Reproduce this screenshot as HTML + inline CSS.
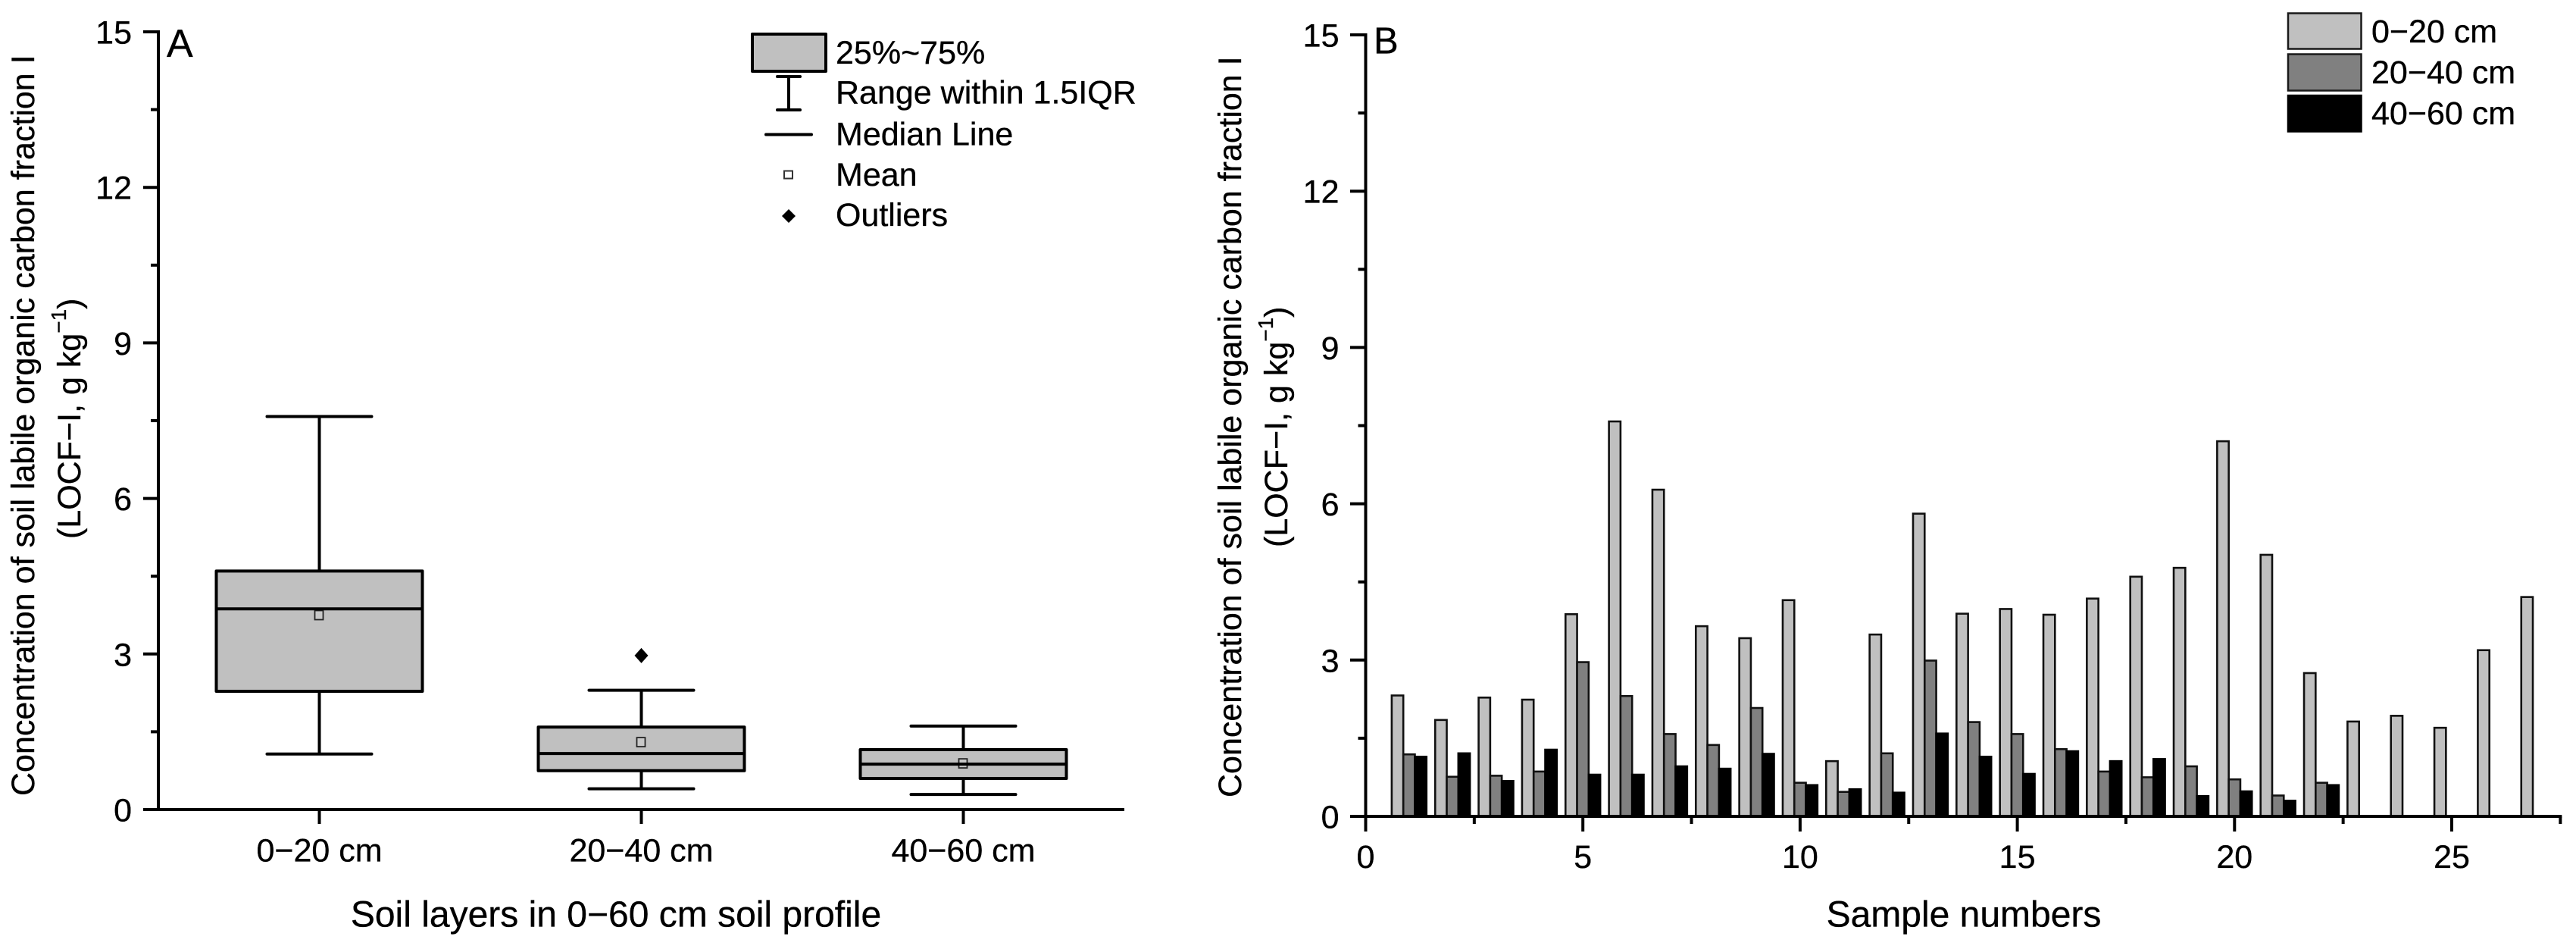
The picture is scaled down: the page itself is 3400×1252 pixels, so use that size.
<!DOCTYPE html>
<html lang="en">
<head>
<meta charset="utf-8">
<title>Soil labile organic carbon fraction I</title>
<style>
html,body{margin:0;padding:0;background:#fff;}
svg{display:block;}
text{font-family:"Liberation Sans",Arial,sans-serif;fill:#000;stroke:#000;stroke-width:0.35px;}
</style>
</head>
<body>
<svg id="figure" xmlns="http://www.w3.org/2000/svg" width="3400" height="1252" viewBox="0 0 3400 1252">
  <rect x="0" y="0" width="3400" height="1252" fill="#fff"/>

  <g id="panelA">
    <text x="220" y="75" font-size="52">A</text>
    <text transform="translate(45,1050) rotate(-90)" font-size="43">Concentration of soil labile organic carbon fraction I</text>
    <text transform="translate(106,711) rotate(-90)" font-size="43">(LOCF−I, g kg<tspan dy="-19" font-size="28">−1</tspan><tspan dy="19">)</tspan></text>
    <text x="813" y="1222.5" font-size="48" text-anchor="middle">Soil layers in 0−60 cm soil profile</text>
    <g id="axesA"></g>
    <g id="boxesA"></g>
    <g>
      <rect x="993" y="45" width="97" height="49" fill="#c0c0c0" stroke="#000" stroke-width="4" stroke-linejoin="round"/>
      <text x="1103" y="84" font-size="43">25%~75%</text>
      <g stroke="#000" stroke-width="4" stroke-linecap="round">
        <line x1="1041" y1="101" x2="1041" y2="145"/>
        <line x1="1026" y1="101" x2="1056" y2="101"/>
        <line x1="1026" y1="145" x2="1056" y2="145"/>
      </g>
      <text x="1103" y="136.5" font-size="43">Range within 1.5IQR</text>
      <line x1="1011" y1="177.5" x2="1071" y2="177.5" stroke="#000" stroke-width="4" stroke-linecap="round"/>
      <text x="1103" y="191.5" font-size="43">Median Line</text>
      <rect x="1035" y="225.5" width="11" height="10" fill="#fff" stroke="#333" stroke-width="2"/>
      <text x="1103" y="245" font-size="43">Mean</text>
      <path d="M1041 276 L1050 285 L1041 294 L1032 285 Z" fill="#000"/>
      <text x="1103" y="298" font-size="43">Outliers</text>
    </g>
  </g>

  <g id="panelB">
    <text x="1813" y="70.5" font-size="49">B</text>
    <text transform="translate(1638,1052) rotate(-90)" font-size="43">Concentration of soil labile organic carbon fraction I</text>
    <text transform="translate(1699,722) rotate(-90)" font-size="43">(LOCF−I, g kg<tspan dy="-19" font-size="28">−1</tspan><tspan dy="19">)</tspan></text>
    <text x="2592" y="1222.5" font-size="48" text-anchor="middle">Sample numbers</text>
    <g id="barsB"></g>
    <g id="axesB"></g>
    <g>
      <rect x="3020" y="17.5" width="96.5" height="47" fill="#c0c0c0" stroke="#1a1a1a" stroke-width="2.5"/>
      <text x="3130" y="56" font-size="43">0−20 cm</text>
      <rect x="3020" y="71.5" width="96.5" height="48" fill="#808080" stroke="#1a1a1a" stroke-width="2.5"/>
      <text x="3130" y="110" font-size="43">20−40 cm</text>
      <rect x="3020" y="126" width="96.5" height="47.5" fill="#000" stroke="#000" stroke-width="2.5"/>
      <text x="3130" y="164" font-size="43">40−60 cm</text>
    </g>
  </g>
</svg>

<script>
// Panel A data
const boxCategories = ["0−20 cm", "20−40 cm", "40−60 cm"];
const boxQ1 = [2.28, 0.75, 0.60];
const boxMedian = [3.87, 1.08, 0.875];
const boxQ3 = [4.60, 1.59, 1.155];
const boxMean = [3.75, 1.30, 0.89];
const whiskerLow = [1.07, 0.40, 0.29];
const whiskerHigh = [7.58, 2.30, 1.61];
const boxOutliers = [[], [2.97], []];
const yTickLabels = [0, 3, 6, 9, 12, 15];
const yMinorTicks = [1.5, 4.5, 7.5, 10.5, 13.5];

// Panel B data
const sampleNumbers = [1,2,3,4,5,6,7,8,9,10,11,12,13,14,15,16,17,18,19,20,21,22,23,24,25,26,27];
const layer0to20 = [2.32,1.85,2.28,2.24,3.88,7.58,6.27,3.65,3.42,4.15,1.06,3.49,5.81,3.89,3.98,3.87,4.18,4.60,4.77,7.20,5.02,2.75,1.82,1.93,1.70,3.19,4.21];
const layer20to40 = [1.19,0.76,0.78,0.86,2.96,2.31,1.58,1.37,2.08,0.645,0.47,1.21,2.99,1.81,1.58,1.29,0.86,0.75,0.96,0.71,0.40,0.645];
const layer40to60 = [1.145,1.21,0.68,1.28,0.80,0.80,0.96,0.915,1.20,0.60,0.52,0.455,1.59,1.145,0.815,1.25,1.06,1.10,0.39,0.48,0.30,0.60];
const xTickLabels = [0, 5, 10, 15, 20, 25];
const xMinorTicks = [2.5, 7.5, 12.5, 17.5, 22.5, 27.5];

const SVGNS = 'http://www.w3.org/2000/svg';
function mk(tag, attrs, parent, txt) {
  const el = document.createElementNS(SVGNS, tag);
  for (const k in attrs) el.setAttribute(k, attrs[k]);
  if (txt !== undefined) el.textContent = txt;
  parent.appendChild(el);
  return el;
}

// Panel A scales
const yA = v => 1068 - v * (1026 / 15);
const xA = i => 209 + (i + 0.5) * (1275 / 3);
const boxHalf = 136, capHalf = 69;

// Panel B scales
const yB = v => 1077 - v * (1031 / 15);
const xB = v => 1802.5 + v * 57.34;
const barUnits = 0.2667;

function line(parent, x1, y1, x2, y2, w) {
  return mk('line', {x1, y1, x2, y2, stroke: '#000', 'stroke-width': w || 4}, parent);
}

// Panel A axes
const axesA = document.getElementById('axesA');
const yAxisA = line(axesA, 209, yA(15) - 2, 209, yA(0) + 2);


const xAxisA = line(axesA, 189, yA(0), 1484, yA(0));


yTickLabels.forEach(v => {
  const t = line(axesA, 189, yA(v), 209, yA(v));
  
  
  const l = mk('text', {x: 174, y: yA(v) + 15.5, 'font-size': 43, 'text-anchor': 'end'}, axesA, String(v));
  
  
});
yMinorTicks.forEach(v => {
  const t = line(axesA, 199, yA(v), 209, yA(v));
  
  
});
boxCategories.forEach((c, i) => {
  const t = line(axesA, xA(i), yA(0), xA(i), 1087);
  
  
  const l = mk('text', {x: xA(i), y: 1136.5, 'font-size': 43, 'text-anchor': 'middle'}, axesA, c);
  
  
});

// Panel A boxes
const boxesA = document.getElementById('boxesA');
boxCategories.forEach((c, i) => {
  const cx = xA(i);
  const g = mk('g', {}, boxesA);
  
  
  const w1 = line(g, cx, yA(whiskerHigh[i]), cx, yA(boxQ3[i]));
  
  
  const w2 = line(g, cx, yA(boxQ1[i]), cx, yA(whiskerLow[i]));
  
  
  const c1 = line(g, cx - capHalf, yA(whiskerHigh[i]), cx + capHalf, yA(whiskerHigh[i]));
  c1.setAttribute('stroke-linecap', 'round');
  
  
  const c2 = line(g, cx - capHalf, yA(whiskerLow[i]), cx + capHalf, yA(whiskerLow[i]));
  c2.setAttribute('stroke-linecap', 'round');
  
  
  const r = mk('rect', {x: cx - boxHalf, y: yA(boxQ3[i]), width: boxHalf * 2, height: yA(boxQ1[i]) - yA(boxQ3[i]), fill: '#c0c0c0', stroke: '#000', 'stroke-width': 4, 'stroke-linejoin': 'round'}, g);
  
  
  const m = mk('rect', {x: cx - 6, y: yA(boxMean[i]) - 6, width: 11, height: 12, fill: '#c8c8c8', stroke: '#222', 'stroke-width': 1.8}, g);
  
  
  const md = line(g, cx - boxHalf, yA(boxMedian[i]), cx + boxHalf, yA(boxMedian[i]));
  
  
  boxOutliers[i].forEach(v => {
    const o = mk('path', {d: `M${cx} ${yA(v) - 10} L${cx + 9} ${yA(v)} L${cx} ${yA(v) + 10} L${cx - 9} ${yA(v)} Z`, fill: '#000'}, g);
    
    
  });
});

// Panel B bars
const barsB = document.getElementById('barsB');
function drawBars(values, offset, fill, stroke, name) {
  values.forEach((v, i) => {
    const x0 = xB(sampleNumbers[i] + offset);
    const r = mk('rect', {x: x0, y: yB(v), width: xB(barUnits) - xB(0), height: yB(0) - yB(v), fill, stroke, 'stroke-width': 2.6}, barsB);
    
    
  });
}
drawBars(layer0to20, -barUnits * 1.5, '#c0c0c0', '#111', 'bar-0-20-cm');
drawBars(layer20to40, -barUnits * 0.5, '#808080', '#111', 'bar-20-40-cm');
drawBars(layer40to60, barUnits * 0.5, '#000', '#000', 'bar-40-60-cm');

// Panel B axes
const axesB = document.getElementById('axesB');
const yAxisB = line(axesB, 1802.5, yB(15) - 2, 1802.5, 1097);


const xAxisB = line(axesB, 1782, yB(0), xB(27.5) + 2, yB(0));


yTickLabels.forEach(v => {
  const t = line(axesB, 1782, yB(v), 1802.5, yB(v));
  
  
  const l = mk('text', {x: 1767.5, y: yB(v) + 15.5, 'font-size': 43, 'text-anchor': 'end'}, axesB, String(v));
  
  
});
yMinorTicks.forEach(v => {
  const t = line(axesB, 1792.5, yB(v), 1802.5, yB(v));
  
  
});
xTickLabels.forEach(v => {
  const t = line(axesB, xB(v), yB(0), xB(v), 1097);
  
  
  const l = mk('text', {x: xB(v), y: 1145, 'font-size': 43, 'text-anchor': 'middle'}, axesB, String(v));
  
  
});
xMinorTicks.forEach(v => {
  const t = line(axesB, xB(v), yB(0), xB(v), 1087);
  
  
});
</script>
</body>
</html>
